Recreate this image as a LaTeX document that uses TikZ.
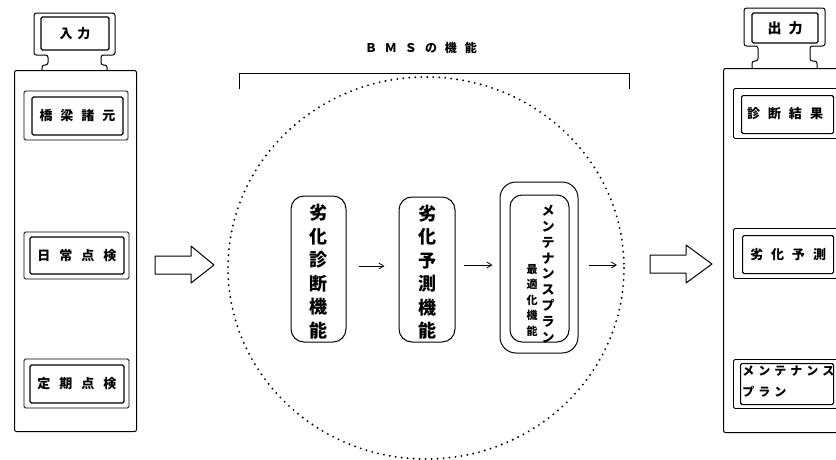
\documentclass[tikz,border=0pt]{standalone}
\usepackage{fontspec}
\newfontfamily\jp{Noto Sans CJK JP}
\usetikzlibrary{arrows.meta}
\newcommand\gp[1]{\hspace{#1pt}}
\begin{document}
\begin{tikzpicture}[x=1pt,y=-1pt, line width=0.9pt,
  panel/.style={draw, rectangle, rounded corners=2pt, inner sep=0, line width=1pt},
  tab/.style={draw, rounded corners=2.5pt, line width=1pt},
  lbl/.style={font=\jp\bfseries\fontsize{13}{13}\selectfont, inner sep=0},
  obox/.style={draw, rectangle, rounded corners=1.5pt, inner sep=0, line width=0.9pt},
  ibox/.style={draw, rectangle, rounded corners=1.5pt, inner sep=0, line width=1.1pt},
  fbox/.style={draw, rectangle, rounded corners=13pt, inner sep=0, line width=1pt},
  vtext/.style={font=\jp\bfseries\fontsize{18}{23.5}\selectfont, align=center, inner sep=0},
  arr/.style={-{Straight Barb[length=5pt,width=6pt]}, line width=0.8pt},
  bigarrow/.style={draw, line width=1pt, line join=round},
  circ/.style={line width=2.1pt, dash pattern=on 0pt off 6pt, line cap=round}]

\useasboundingbox (0,0) rectangle (836,459);
\clip (0,0) rectangle (836,459);

% ---------------- input panel ----------------
\node[panel, minimum width=122, minimum height=361, anchor=north west] (inpanel) at (14,70) {};
\draw[tab] (42,70) -- (42,65) -- (48,65) -- (48,55) -- (34,55) -- (34,13) -- (115,13)
  -- (115,55) -- (101,55) -- (101,65) -- (107,65) -- (107,70);
\node[ibox, minimum width=68, minimum height=33, font=\jp\bfseries\fontsize{13}{13}\selectfont] (intab) at (75,33.5) {入\gp{5}力};

\node[obox, minimum width=104, minimum height=49] (in1o) at (76,115.5) {};
\node[ibox, minimum width=91, minimum height=38, lbl] (in1) at (77.5,116) {橋\gp{8}梁\gp{8}諸\gp{8}元};
\node[obox, minimum width=105, minimum height=47] (in2o) at (76.5,255.5) {};
\node[ibox, minimum width=94, minimum height=37, lbl] (in2) at (77,255.5) {日\gp{9}常\gp{9}点\gp{9}検};
\node[obox, minimum width=105, minimum height=49] (in3o) at (76.5,383.5) {};
\node[ibox, minimum width=94, minimum height=38, lbl] (in3) at (77,384) {定\gp{9}期\gp{9}点\gp{9}検};

% ---------------- big arrows ----------------
\draw[bigarrow] (155,256) -- (191,256) -- (191,246) -- (214,265) -- (191,283) -- (191,274) -- (155,274) -- cycle;
\draw[bigarrow] (650,255) -- (686,255) -- (686,245) -- (712,264) -- (686,283) -- (686,273) -- (650,273) -- cycle;

% ---------------- BMS ----------------
\node[font=\jp\bfseries\fontsize{12}{12}\selectfont, inner sep=0] (title) at (421,48) {Ｂ\gp{8}Ｍ\gp{8}Ｓ\gp{8}の\gp{8}機\gp{8}能};
\draw[line width=1pt] (239,89) -- (239,73) -- (629,73) -- (629,89);
\draw[circ] (426,268) ellipse [x radius=198, y radius=191];

\node[fbox, minimum width=55, minimum height=146] (f1) at (318.5,269) {};
\node[vtext] (f1t) at (318.5,271.5) {劣\\化\\診\\断\\機\\能};
\node[fbox, minimum width=56, minimum height=145] (f2) at (427,269.5) {};
\node[vtext] (f2t) at (427,272) {劣\\化\\予\\測\\機\\能};
\node[fbox, rounded corners=16pt, minimum width=78, minimum height=171] (f3o) at (539,267.5) {};
\node[fbox, rounded corners=12pt, minimum width=59, minimum height=147] (f3) at (539.5,268.5) {};
\node[font=\jp\bfseries\fontsize{13}{15.9}\selectfont, align=center, inner sep=0] (f3a) at (548,274) {メ\\ン\\テ\\ナ\\ン\\ス\\プ\\ラ\\ン};
\node[font=\jp\bfseries\fontsize{11}{15.5}\selectfont, align=center, inner sep=0] (f3b) at (532,300) {最\\適\\化\\機\\能};

\coordinate (a3end) at (617,265);
\draw[arr, shorten <=12pt, shorten >=14pt] (f1.east |- 0,266) -- (f2.west |- 0,266);
\draw[arr, shorten <=8pt, shorten >=7pt] (f2.east |- 0,265) -- (f3o.west |- 0,265);
\draw[arr, shorten <=10pt] (f3o.east |- 0,265) -- (a3end);

% ---------------- output panel ----------------
\node[panel, minimum width=140, minimum height=364, anchor=north west] (outpanel) at (723,68) {};
\draw[tab] (752,68) -- (752,61) -- (758,61) -- (758,46) -- (744,46) -- (744,8) -- (825,8)
  -- (825,46) -- (810,46) -- (810,61) -- (817,61) -- (817,68);
\node[ibox, minimum width=66, minimum height=30, font=\jp\bfseries\fontsize{14}{14}\selectfont] (outtab) at (785,28) {出\gp{7}力};

\node[obox, minimum width=110, minimum height=50, anchor=north west] (out1o) at (733,88) {};
\node[ibox, minimum width=92, minimum height=38, anchor=north west] (out1) at (741,95) {};
\node[lbl] (out1t) at (785,114) {診\gp{8}断\gp{8}結\gp{8}果};
\node[obox, minimum width=110, minimum height=50, anchor=north west] (out2o) at (733,228) {};
\node[ibox, minimum width=91, minimum height=38, anchor=north west] (out2) at (742,235) {};
\node[lbl] (out2t) at (788,255) {劣\gp{8}化\gp{8}予\gp{8}測};
\node[obox, minimum width=110, minimum height=49, anchor=north west] (out3o) at (733,359) {};
\node[ibox, minimum width=93, minimum height=41, anchor=north west] (out3) at (740,363) {};
\node[font=\jp\bfseries\fontsize{12}{21}\selectfont, align=left, inner sep=0, anchor=north west] (out3t) at (742,365)
  {メ\gp{4}ン\gp{4}テ\gp{4}ナ\gp{4}ン\gp{4}ス\\プ\gp{4}ラ\gp{4}ン};
\end{tikzpicture}
\end{document}
